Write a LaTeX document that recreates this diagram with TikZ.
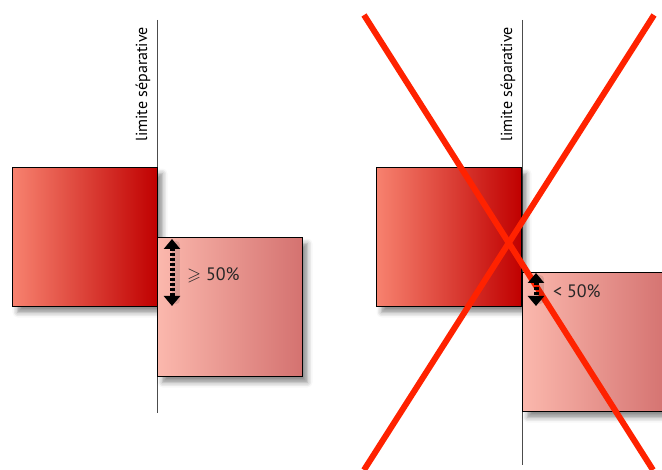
\documentclass[tikz,border=0pt]{standalone}
\usepackage{fontspec}
\setmainfont{PT Sans}
\usepackage{amssymb}
\usetikzlibrary{arrows.meta}
\usetikzlibrary{shadows.blur}

\definecolor{darkL}{HTML}{F7826F}
\definecolor{darkR}{HTML}{C00000}
\definecolor{lightL}{HTML}{FBB8AD}
\definecolor{lightR}{HTML}{D47270}
\definecolor{crossred}{HTML}{FF2200}

\begin{document}
\begin{tikzpicture}[x=1pt, y=-1pt, font=\fontsize{16}{18}\selectfont]
\tikzset{box/.style 2 args={draw=black, line width=1pt, shading=axis, left color=#1, right color=#2,
  minimum width=145, minimum height=139, inner sep=0, anchor=north west,
  blur shadow={shadow xshift=5pt, shadow yshift=-6pt, shadow blur radius=5pt, shadow opacity=45}}}
\tikzset{limit/.style={draw=black!70, line width=0.8pt}}
\tikzset{gap/.style={line width=5pt, dash pattern=on 2.6pt off 2.4pt,
  {Triangle[width=16pt,length=10pt]}-{Triangle[width=16pt,length=10pt]}}}
\tikzset{gapshadow/.style={line width=8pt, draw=black, opacity=0.1, line cap=round,
  shorten <=6pt, shorten >=6pt, transform canvas={xshift=4pt}}}
\tikzset{pct/.style={anchor=west, inner sep=0, font=\fontsize{18}{20}\selectfont, text=black!85}}
\tikzset{cross/.style={draw=crossred, line width=6pt}}

\useasboundingbox (0,0) rectangle (662,470);
\clip (0,0) rectangle (662,470);

% allowed - left
\coordinate (lim1t) at (157,20);
\coordinate (lim1b) at (157,413);
\draw[limit] (lim1t) -- (lim1b);
\node[rotate=90, anchor=base east, inner sep=0] (lab1) at (147,27) {limite séparative};

\node[box={darkL}{darkR}] (dark1) at (12,167) {};
\node[box={lightL}{lightR}] (light1) at (157,237) {};

\coordinate (g1t) at (172,239);
\coordinate (g1b) at (172,306);
\draw[gapshadow] (g1t) -- (g1b);
\draw[gap] (g1t) -- (g1b);
\node[pct] (pc1) at (187,275) {$\geqslant$ 50\%};

% not allowed - right
\coordinate (lim2t) at (522,20);
\coordinate (lim2b) at (522,465);
\draw[limit] (lim2t) -- (lim2b);
\node[rotate=90, anchor=base east, inner sep=0] (lab2) at (512,27) {limite séparative};

\node[box={darkL}{darkR}] (dark2) at (376,167) {};
\node[box={lightL}{lightR}] (light2) at (522,272) {};
\node[pct] (pc2) at (553,291) {< 50\%};

% the big X
\coordinate (x1) at (364,15);
\coordinate (x2) at (653,470);
\coordinate (x3) at (654,15);
\coordinate (x4) at (364,470);
\draw[cross] (x1) -- (x2);
\draw[cross] (x3) -- (x4);

\coordinate (g2t) at (536,273);
\coordinate (g2b) at (536,306);
\draw[gapshadow] (g2t) -- (g2b);
\draw[gap] (g2t) -- (g2b);

\end{tikzpicture}
\end{document}
